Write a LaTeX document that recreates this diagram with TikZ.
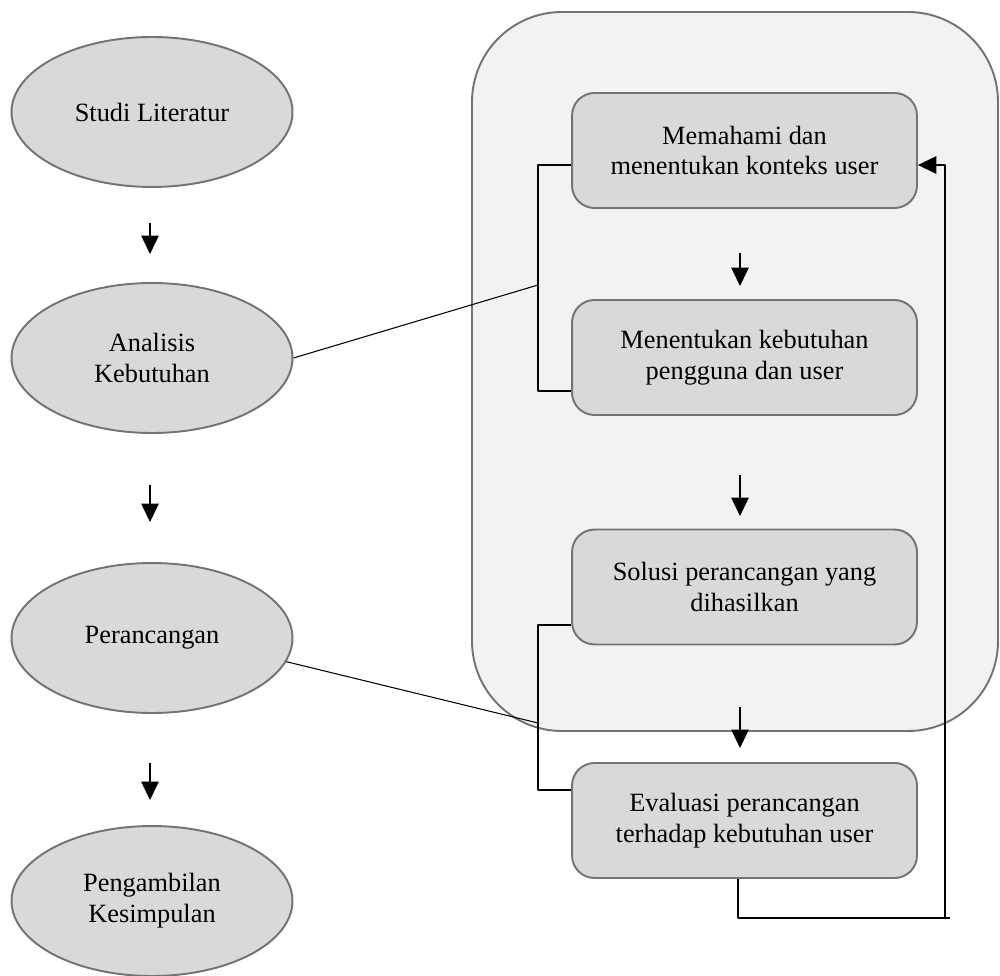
\documentclass[tikz,border=0pt]{standalone}
\usepackage{fontspec}
\setmainfont{Liberation Serif}
\usetikzlibrary{shapes.geometric,arrows.meta}
\begin{document}
\begin{tikzpicture}[x=0.02cm,y=-0.02cm,line join=round,>={Triangle[length=10.5pt,width=10pt]}]
	\tikzset{every node/.style={font=\fontsize{15}{17.5}\selectfont,align=center},
		oval/.style={ellipse,draw=black!55,line width=1.1pt,fill=black!15,minimum width=5.62cm,minimum height=3cm,inner sep=0pt},
		tahap/.style={rectangle,rounded corners=0.45cm,draw=black!55,line width=1.1pt,fill=black!15,minimum width=6.9cm,minimum height=2.3cm,inner sep=0pt},
		garis/.style={draw=black,line width=0.6pt}}
	\useasboundingbox (0,0) rectangle (1000,976);
	\draw[rounded corners=1.8cm,fill=black!5,draw=black!55,line width=1.1pt] (472,12) rectangle (998,731);
	\node[oval] (studi) at (152,112) {Studi Literatur};
	\node[oval] (analisis) at (152,358) {Analisis\\Kebutuhan};
	\node[oval] (perancangan) at (152,638) {Perancangan};
	\node[oval] (kesimpulan) at (152,901) {Pengambilan\\Kesimpulan};
	\node[tahap] (konteks) at (744.5,150.5) {Memahami dan\\menentukan konteks user};
	\node[tahap] (kebutuhan) at (744.5,357.5) {Menentukan kebutuhan\\pengguna dan user};
	\node[tahap] (solusi) at (744.5,587) {Solusi perancangan yang\\dihasilkan};
	\node[tahap] (evaluasi) at (744.5,820.5) {Evaluasi perancangan\\terhadap kebutuhan user};
	\coordinate (b1) at (538,285);
	\coordinate (b2) at (538,723);
	\foreach \x/\a/\b in {150/223/254,150/485/522,150/763/800,740/253/286,740/475/516,740/707/748}
		\draw[garis,->] (\x,\a) -- (\x,\b);
	\draw[garis] (konteks.west |- 538,165) -- (538,165) -- (538,391) -- (kebutuhan.west |- 538,391);
	\draw[garis] (analisis.east) -- (b1);
	\draw[garis] (solusi.west |- 538,625) -- (538,625) -- (538,790) -- (evaluasi.west |- 538,790);
	\draw[garis] (perancangan.-10) -- (b2);
	\draw[garis] (evaluasi.south -| 738,0) -- (738,918) -- (950,918);
	\draw[garis,->] (945,918) -- (945,165) -- (konteks.east |- 945,165);
\end{tikzpicture}
\end{document}
